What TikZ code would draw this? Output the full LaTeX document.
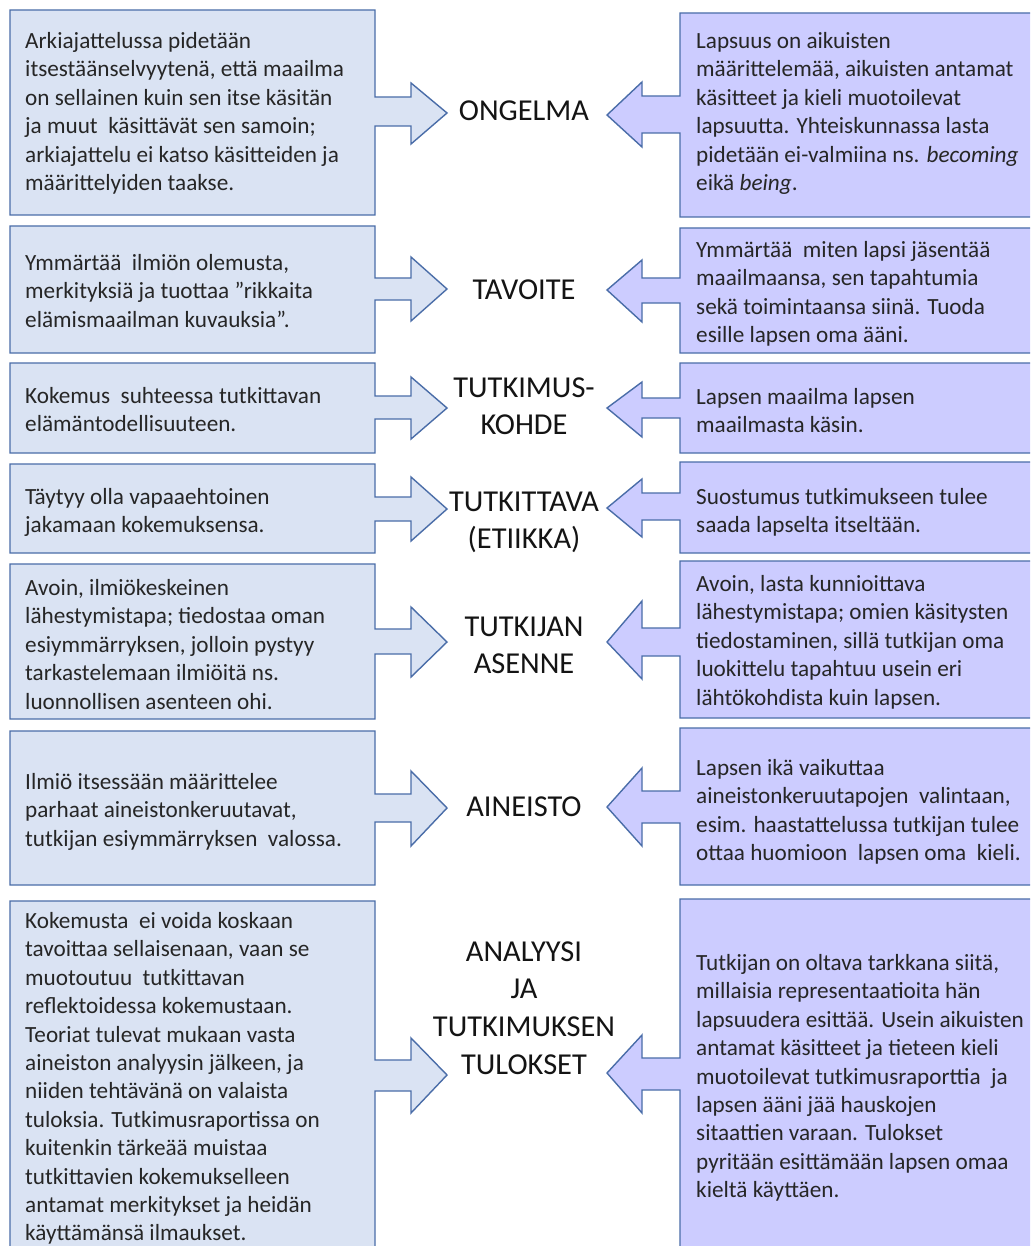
\documentclass[tikz,border=0pt]{standalone}
\usepackage{fontspec}
\setmainfont{Carlito}
\definecolor{leftfill}{HTML}{DAE3F3}
\definecolor{rightfill}{HTML}{CCCCFF}
\definecolor{edgeblue}{HTML}{4A6DA8}
\definecolor{bodyink}{HTML}{262626}
\definecolor{labelink}{HTML}{141414}
\tikzset{
  lbox/.style={fill=leftfill, draw=edgeblue, line width=1.4pt, line join=miter},
  rbox/.style={fill=rightfill, draw=edgeblue, line width=1.4pt, line join=miter},
  btext/.style={inner sep=0pt, anchor=base west, text=bodyink, yshift=-2.5pt,
                font=\fontsize{23.2}{28.4}\selectfont},
  ctext/.style={inner sep=0pt, anchor=base, text=labelink,
                font=\fontsize{30.4}{37.8}\selectfont},
}
% box with a right-pointing arrow: top, bottom, shaft top, shaft bottom, head top, head bottom, tip
\newcommand{\leftcallout}[7]{%
  \draw[lbox] (10,#1) -- (375,#1) -- (375,#3) -- (411,#3) -- (411,#5) -- (447,#7)
    -- (411,#6) -- (411,#4) -- (375,#4) -- (375,#2) -- (10,#2) -- cycle;}
% box with a left-pointing arrow, same arguments
\newcommand{\rightcallout}[7]{%
  \draw[rbox] (1045,#1) -- (680,#1) -- (680,#3) -- (642,#3) -- (642,#5) -- (607,#7)
    -- (642,#6) -- (642,#4) -- (680,#4) -- (680,#2) -- (1045,#2) -- cycle;}
\newcommand{\bodylines}[1]{\parbox[t]{380pt}{\raggedright #1}}
\newcommand{\labellines}[1]{\parbox[t]{240pt}{\centering #1}}

\begin{document}
\begin{tikzpicture}[x=1pt, y=-1pt]
\useasboundingbox (0,0) rectangle (1030,1246);
\fill[white] (0,0) rectangle (1030,1246);
\clip (0,0) rectangle (1030,1246);

% left column
\leftcallout{10}{215}{97}{126}{83}{144}{113}
\leftcallout{226}{353}{278}{300}{257}{321}{289}
\leftcallout{363}{453}{396}{419}{377}{439}{408}
\leftcallout{464}{553}{497}{521}{477}{541}{509}
\leftcallout{564}{719}{629}{654}{607}{677}{642}
\leftcallout{731}{885}{794}{822}{771}{846}{808}
\leftcallout{901}{1260}{1060}{1091}{1038}{1113}{1075}

% right column
\rightcallout{13}{217}{96}{133}{82}{147}{115}
\rightcallout{228}{353}{278}{303}{260}{322}{290}
\rightcallout{363}{453}{398}{418}{382}{437}{408}
\rightcallout{462}{553}{493}{520}{479}{537}{508}
\rightcallout{561}{718}{628}{656}{601}{679}{642}
\rightcallout{728}{885}{791}{823}{768}{846}{807}
\rightcallout{899}{1260}{1058}{1090}{1035}{1113}{1073}

% left texts
\node[btext] (l1) at (25,46) {\bodylines{Arkiajattelussa pidetään\\
  itsestäänselvyytenä, että maailma\\
  on sellainen kuin sen itse käsitän\\
  ja muut\ \ käsittävät sen samoin;\\
  arkiajattelu ei katso käsitteiden ja\\
  määrittelyiden taakse.}};
\node[btext] (l2) at (25,268) {\bodylines{Ymmärtää\ \ ilmiön olemusta,\\
  merkityksiä ja tuottaa ”rikkaita\\
  elämismaailman kuvauksia”.}};
\node[btext] (l3) at (25,401) {\bodylines{Kokemus\ \ suhteessa tutkittavan\\
  elämäntodellisuuteen.}};
\node[btext] (l4) at (25,502) {\bodylines{Täytyy olla vapaaehtoinen\\
  jakamaan kokemuksensa.}};
\node[btext] (l5) at (25,593) {\bodylines{Avoin, ilmiökeskeinen\\
  lähestymistapa; tiedostaa oman\\
  esiymmärryksen, jolloin pystyy\\
  tarkastelemaan ilmiöitä ns.\\
  luonnollisen asenteen ohi.}};
\node[btext] (l6) at (25,787) {\bodylines{Ilmiö itsessään määrittelee\\
  parhaat aineistonkeruutavat,\\
  tutkijan esiymmärryksen\ \ valossa.}};
\node[btext] (l7) at (25,926) {\bodylines{Kokemusta\ \ ei voida koskaan\\
  tavoittaa sellaisenaan, vaan se\\
  muotoutuu\ \ tutkittavan\\
  reflektoidessa kokemustaan.\\
  Teoriat tulevat mukaan vasta\\
  aineiston analyysin jälkeen, ja\\
  niiden tehtävänä on valaista\\
  tuloksia. Tutkimusraportissa on\\
  kuitenkin tärkeää muistaa\\
  tutkittavien kokemukselleen\\
  antamat merkitykset ja heidän\\
  käyttämänsä ilmaukset.}};

% right texts
\node[btext] (r1) at (696,46) {\bodylines{Lapsuus on aikuisten\\
  määrittelemää, aikuisten antamat\\
  käsitteet ja kieli muotoilevat\\
  lapsuutta. Yhteiskunnassa lasta\\
  pidetään ei-valmiina ns. \textit{becoming}\\
  eikä \textit{being}.}};
\node[btext] (r2) at (696,255) {\bodylines{Ymmärtää\ \ miten lapsi jäsentää\\
  maailmaansa, sen tapahtumia\\
  sekä toimintaansa siinä. Tuoda\\
  esille lapsen oma ääni.}};
\node[btext] (r3) at (696,402) {\bodylines{Lapsen maailma lapsen\\
  maailmasta käsin.}};
\node[btext] (r4) at (696,502) {\bodylines{Suostumus tutkimukseen tulee\\
  saada lapselta itseltään.}};
\node[btext] (r5) at (696,589) {\bodylines{Avoin, lasta kunnioittava\\
  lähestymistapa; omien käsitysten\\
  tiedostaminen, sillä tutkijan oma\\
  luokittelu tapahtuu usein eri\\
  lähtökohdista kuin lapsen.}};
\node[btext] (r6) at (696,773) {\bodylines{Lapsen ikä vaikuttaa\\
  aineistonkeruutapojen\ \ valintaan,\\
  esim. haastattelussa tutkijan tulee\\
  ottaa huomioon\ \ lapsen oma\ \ kieli.}};
\node[btext] (r7) at (696,968) {\bodylines{Tutkijan on oltava tarkkana siitä,\\
  millaisia representaatioita hän\\
  lapsuudera esittää. Usein aikuisten\\
  antamat käsitteet ja tieteen kieli\\
  muotoilevat tutkimusraporttia\ \ ja\\
  lapsen ääni jää hauskojen\\
  sitaattien varaan. Tulokset\\
  pyritään esittämään lapsen omaa\\
  kieltä käyttäen.}};

% middle headings
\node[ctext] (c1) at (524,121) {\labellines{ONGELMA}};
\node[ctext] (c2) at (524,300) {\labellines{TAVOITE}};
\node[ctext] (c3) at (524,397) {\labellines{TUTKIMUS-\\KOHDE}};
\node[ctext] (c4) at (524,511) {\labellines{TUTKITTAVA\\(ETIIKKA)}};
\node[ctext] (c5) at (524,636) {\labellines{TUTKIJAN\\ASENNE}};
\node[ctext] (c6) at (524,816) {\labellines{AINEISTO}};
\node[ctext] (c7) at (524,961) {\labellines{ANALYYSI\\JA\\TUTKIMUKSEN\\TULOKSET}};
\end{tikzpicture}
\end{document}
